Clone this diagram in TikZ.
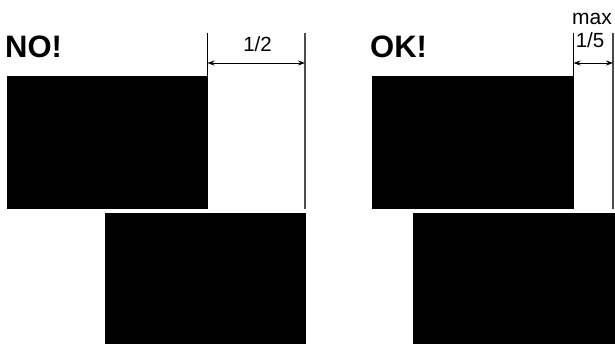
\documentclass[tikz,border=0pt]{standalone}
\usepackage{fontspec}
\setmainfont{Liberation Sans}
\usetikzlibrary{arrows.meta}
\begin{document}
\begin{tikzpicture}[x=1pt,y=-1pt,
  blk/.style={fill=black,draw=none,inner sep=0pt,outer sep=0pt,minimum width=201pt,minimum height=133pt,anchor=north west},
  title/.style={font=\fontsize{31}{31}\selectfont\bfseries,anchor=base west,inner sep=0pt},
  lbl/.style={font=\fontsize{20.5}{20.5}\selectfont,anchor=base,inner sep=0pt},
  tick/.style={line width=1pt,black},
  edge/.style={line width=2pt,black!70},
  dim/.style={line width=0.9pt,{Stealth[length=7pt,width=5pt]}-{Stealth[length=7pt,width=5pt]}}]
\useasboundingbox (0,0) rectangle (615,344);
% left
\node[title] (no) at (5,58) {NO!};
\node[blk] (l1) at (7,76) {};
\node[blk,minimum width=201pt,minimum height=132pt] (l2) at (105,213) {};
\coordinate (lt1) at (207.5,33);
\coordinate (lt2) at (207.5,76);
\coordinate (lr1) at (305,33);
\coordinate (lr2) at (305,209);
\coordinate (la1) at (207.5,63);
\coordinate (la2) at (305,63);
\draw[tick] (lt1) -- (lt2);
\draw[edge] (lr1) -- (lr2);
\draw[dim] (la1) -- (la2);
\node[lbl] (half) at (257.5,52) {1/2};
% right
\node[title] (ok) at (370,58) {OK!};
\node[blk,minimum width=202pt] (r1) at (372,76) {};
\node[blk,minimum width=202pt,minimum height=132pt] (r2) at (413,213) {};
\coordinate (rt1) at (573.5,33);
\coordinate (rt2) at (573.5,76);
\coordinate (rr1) at (613,33);
\coordinate (rr2) at (613,209);
\coordinate (ra1) at (573.5,63);
\coordinate (ra2) at (613,63);
\draw[tick] (rt1) -- (rt2);
\draw[edge] (rr1) -- (rr2);
\draw[dim] (ra1) -- (ra2);
\node[lbl] (fifth) at (590,48) {1/5};
\node[lbl,font=\fontsize{21}{21}\selectfont] (max) at (592,25) {max};
\end{tikzpicture}
\end{document}
